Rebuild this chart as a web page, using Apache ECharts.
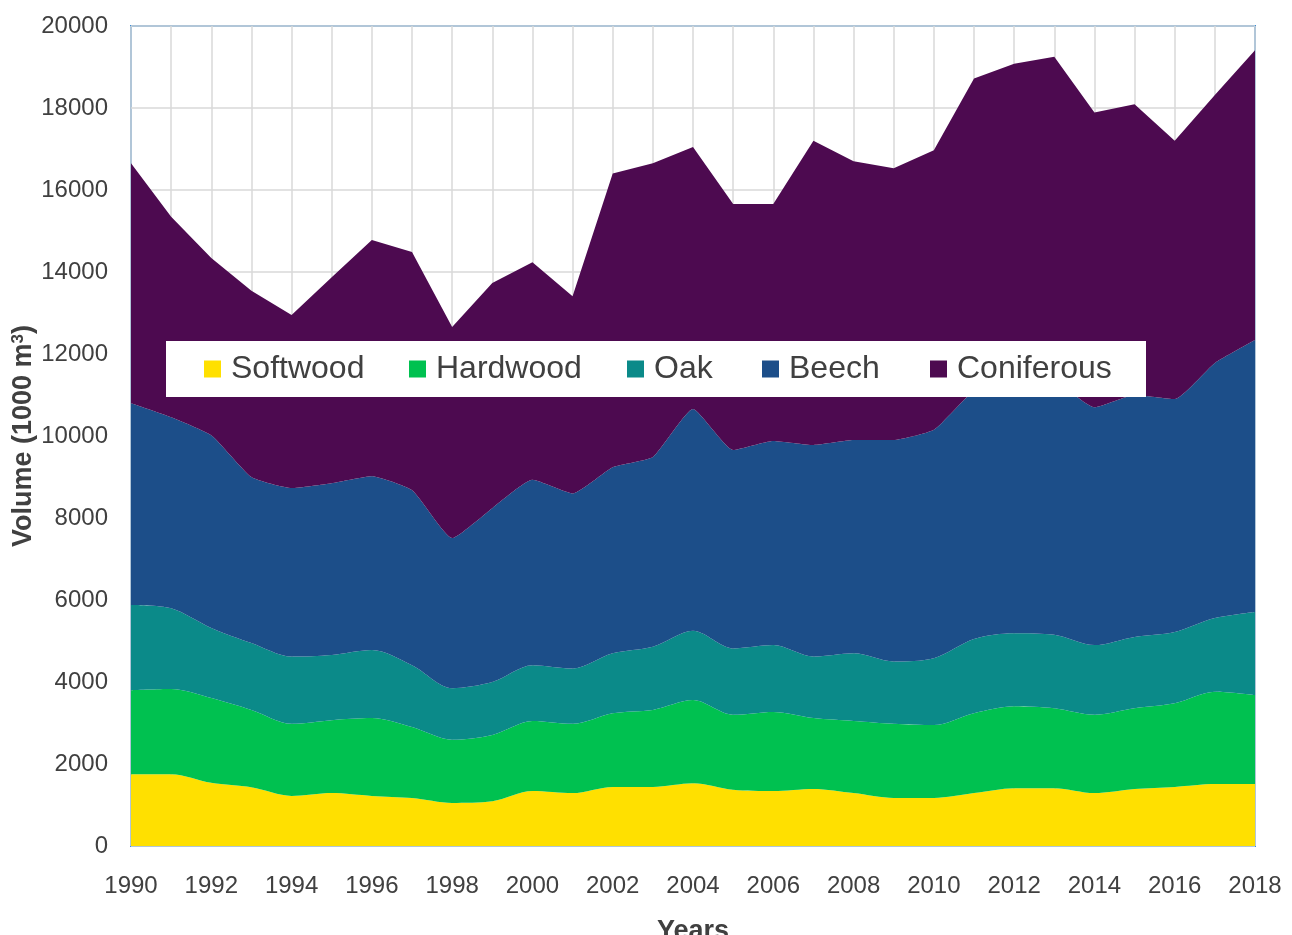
<!DOCTYPE html>
<html>
<head>
<meta charset="utf-8">
<style>
  html, body { margin: 0; padding: 0; background: #ffffff; }
  #chart { width: 1292px; height: 935px; }
</style>
<script src="https://cdn.jsdelivr.net/npm/echarts@6/dist/echarts.min.js"></script>
</head>
<body>
<div id="chart"></div>
<script>
const years = ['1990','1991','1992','1993','1994','1995','1996','1997','1998','1999',
  '2000','2001','2002','2003','2004','2005','2006','2007','2008','2009',
  '2010','2011','2012','2013','2014','2015','2016','2017','2018'];

const softwood = [1750,1750,1540,1430,1220,1290,1220,1170,1050,1090,
  1340,1290,1440,1440,1530,1370,1340,1390,1290,1170,
  1170,1290,1410,1410,1290,1390,1440,1510,1510];

const hardwood = [2050,2080,2070,1890,1760,1780,1900,1730,1540,1620,
  1710,1690,1800,1880,2030,1830,1930,1730,1760,1810,
  1780,1950,2000,1950,1910,1970,2040,2250,2170];

const oak = [2080,1970,1710,1630,1640,1590,1660,1510,1260,1290,
  1360,1350,1460,1540,1690,1620,1630,1500,1650,1520,
  1630,1810,1780,1790,1700,1740,1740,1800,2030];

const beech = [4920,4660,4700,4050,4110,4190,4240,4270,3660,4240,
  4520,4270,4540,4630,5410,4840,4980,5160,5200,5400,
  5570,6050,6110,6150,5800,5900,5680,6220,6630];

const coniferous = [5850,4890,4320,4540,4220,5020,5760,5810,5150,5490,
  5310,4810,7160,7160,6390,6000,5780,7420,6800,6630,
  6820,7620,7780,7950,7190,7090,6300,6540,7070];

const seriesNames = ['Softwood','Hardwood','Oak','Beech','Coniferous'];
const seriesData = [softwood, hardwood, oak, beech, coniferous];
const colors = ['#FFE000','#00C150','#0B8A89','#1C4E89','#4D0A50'];
const smoothness = [0.3, 0.3, 0.3, 0.15, false];

const FONT = "'Liberation Sans', Arial, sans-serif";
const legendLeft = [204, 409, 627, 762, 930];

const chart = echarts.init(document.getElementById('chart'), null, { renderer: 'canvas' });

const option = {
  animation: false,
  backgroundColor: '#ffffff',
  textStyle: { fontFamily: FONT },
  grid: {
    left: 131, right: 37, top: 26, bottom: 89,
    containLabel: false,
    outerBoundsMode: 'none',
    show: true, borderColor: '#3C8ED8', borderWidth: 2, backgroundColor: '#ffffff'
  },
  graphic: [{
    type: 'rect', z: 3,
    shape: { x: 166, y: 341, width: 980, height: 56 },
    style: { fill: '#ffffff' }
  }],
  legend: seriesNames.map((n, i) => ({
    data: [n],
    left: legendLeft[i], top: 349,
    padding: 0,
    icon: 'rect', itemWidth: 17, itemHeight: 17,
    z: 5,
    textStyle: { fontSize: 32, color: '#404040', fontFamily: FONT, padding: [0,0,0,5], lineHeight: 40 }
  })),
  xAxis: {
    type: 'category',
    data: years,
    boundaryGap: false,
    axisLine: { show: false },
    axisTick: { show: false },
    axisLabel: { interval: 1, fontSize: 24, color: '#404040', margin: 28, fontFamily: FONT },
    splitLine: { show: true, interval: 0, lineStyle: { color: '#D9D9D9', width: 1.5 } },
    name: 'Years',
    nameLocation: 'middle',
    nameGap: 72,
    nameMoveOverlap: false,
    nameTextStyle: { fontSize: 27, fontWeight: 'bold', color: '#404040', fontFamily: FONT }
  },
  yAxis: {
    type: 'value',
    min: 0, max: 20000, interval: 2000,
    axisLine: { show: false },
    axisTick: { show: false },
    axisLabel: { fontSize: 24, color: '#404040', margin: 23, fontFamily: FONT,
      formatter: function (v) { return String(v); } },
    splitLine: { show: true, lineStyle: { color: '#D9D9D9', width: 1.5 } },
    name: 'Volume (1000 m{sup|3})',
    nameLocation: 'middle',
    nameRotate: 90,
    nameGap: 94,
    nameMoveOverlap: false,
    nameTextStyle: {
      fontSize: 27, fontWeight: 'bold', color: '#404040', fontFamily: FONT,
      rich: { sup: { fontSize: 17, fontWeight: 'bold', color: '#404040', verticalAlign: 'top', padding: [0,0,10,0], fontFamily: FONT } }
    }
  },
  series: seriesNames.map((n, i) => ({
    name: n,
    type: 'line',
    stack: 'total',
    data: seriesData[i],
    smooth: smoothness[i],
    symbol: 'none',
    lineStyle: { width: 0 },
    areaStyle: { color: colors[i], opacity: 1 },
    itemStyle: { color: colors[i] },
    z: 2
  }))
};

chart.setOption(option);
</script>
</body>
</html>
